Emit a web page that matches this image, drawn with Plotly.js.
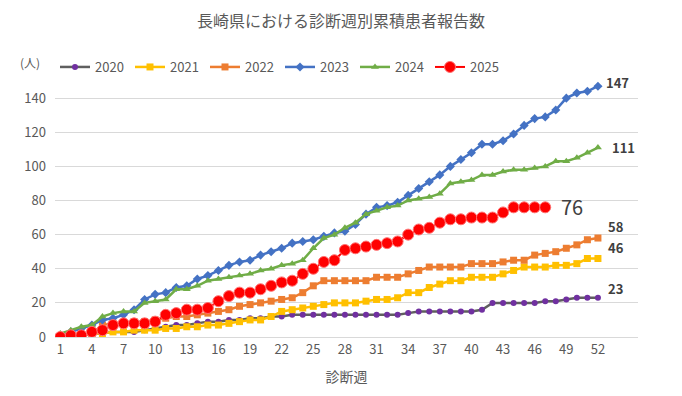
<!DOCTYPE html>
<html><head><meta charset="utf-8">
<script src="https://cdn.plot.ly/plotly-3.0.1.min.js"></script>
<style>html,body{margin:0;padding:0;background:#fff}#chart{width:682px;height:396px}</style>
</head><body><div id="chart"></div>
<script>
const weeks = [1,2,3,4,5,6,7,8,9,10,11,12,13,14,15,16,17,18,19,20,21,22,23,24,25,26,27,28,29,30,31,32,33,34,35,36,37,38,39,40,41,42,43,44,45,46,47,48,49,50,51,52];
const tickWeeks = [1,4,7,10,13,16,19,22,25,28,31,34,37,40,43,46,49,52];
const seriesNames = ["2020","2021","2022","2023","2024","2025"];
const y2020 = [0,1,1,2,2,3,3,3,4,5, 6,7,7,8,9,9,10,10,11,11, 12,12,13,13,13,13,13,13,13,13, 13,13,13,14,15,15,15,15,15,15, 16,20,20,20,20,20,21,21,22,23, 23,23];
const y2021 = [0,1,1,2,2,3,3,4,4,4, 5,5,6,6,7,7,8,9,10,10, 12,15,16,17,18,19,20,20,20,21, 22,22,23,26,26,29,31,33,33,35, 35,35,37,39,41,41,41,42,42,43, 46,46];
const y2022 = [0,1,1,2,7,8,8,9,9,10, 11,12,12,13,14,15,16,18,19,20, 21,22,23,26,30,33,33,33,33,33, 35,35,35,37,39,41,41,41,41,43, 43,43,44,45,45,48,49,50,52,54, 57,58];
const y2023 = [1,3,5,7,10,11,13,16,22,25, 26,29,30,34,36,39,42,44,45,48, 50,52,55,56,57,59,61,62,66,72, 76,77,79,83,87,91,95,100,104,108, 113,113,115,119,124,128,129,133,140,143, 144,147];
const y2024 = [2,4,6,7,12,14,15,15,20,21, 22,28,28,30,33,34,35,36,37,39, 40,42,43,45,52,58,60,64,67,72, 74,76,77,80,81,82,84,90,91,92, 95,95,97,98,98,99,100,103,103,105, 108,111];
const y2025 = [0,1,1,3,4,7,8,8,8,9, 13,14,16,16,17,21,24,26,26,28, 30,32,33,37,40,44,45,51,52,53, 54,55,56,60,63,64,67,69,69,70, 70,70,73,76,76,76,76];
const yTicks = [0,20,40,60,80,100,120,140];

const allY = [y2020,y2021,y2022,y2023,y2024,y2025];
const styles = [
  {line:{color:'#5f5f5f',width:2.5}, marker:{symbol:'circle',size:6,color:'#7030A0'}},
  {line:{color:'#FFC000',width:2.5}, marker:{symbol:'square',size:7,color:'#FFC000'}},
  {line:{color:'#ED7D31',width:2.5}, marker:{symbol:'square',size:7,color:'#ED7D31'}},
  {line:{color:'#4472C4',width:2.5}, marker:{symbol:'diamond',size:7,color:'#4472C4'}},
  {line:{color:'#70AD47',width:2.5}, marker:{symbol:'triangle-up',size:7,color:'#70AD47'}},
  {line:{color:'#FF0000',width:2}, marker:{symbol:'circle',size:11,color:'#FF0000',line:{color:'#FF7070',width:1}}}
];
const traces = allY.map((ys,i)=>({
  type:'scatter', mode:'lines+markers', name:seriesNames[i],
  x:weeks.slice(0,ys.length), y:ys,
  line:styles[i].line, marker:styles[i].marker
}));

const fam = '"Noto Sans CJK JP", sans-serif';
const labelFont = {family:fam, size:13, color:'#404040'};
const endLabels = [
  {i:3, xs:6, ys:4, big:false},
  {i:4, xs:12, ys:0, big:false},
  {i:2, xs:8, ys:12, big:false},
  {i:1, xs:8, ys:11, big:false},
  {i:0, xs:8, ys:9, big:false},
  {i:5, xs:14, ys:1, big:true}
];
const annotations = endLabels.map(o=>{
  const ys = allY[o.i];
  const v = ys[ys.length-1];
  return {x:ys.length, y:v, xref:'x', yref:'y', text:(o.big?String(v):'<b>'+v+'</b>'),
    showarrow:false, xanchor:'left', yanchor:'middle', xshift:o.xs, yshift:o.ys,
    font:o.big?{family:fam, size:20, color:'#404040'}:labelFont};
});
const W=682,H=396, L=55, R=44, T=64, B=59;
const pw=W-L-R, ph=H-T-B;
annotations.push({x:(30-L)/pw, y:(H-B-62)/ph, xref:'paper', yref:'paper', text:'(人)', showarrow:false,
  xanchor:'center', yanchor:'middle', font:{family:fam, size:12, color:'#595959'}});

const layout = {
  width:W, height:H, margin:{l:L,r:R,t:T,b:B},
  paper_bgcolor:'#fff', plot_bgcolor:'#fff',
  font:{family:fam, color:'#595959', size:13},
  title:{text:'長崎県における診断週別累積患者報告数', x:0.5, xanchor:'center', y:1-21/H, yanchor:'middle',
    font:{family:fam, size:16, color:'#595959'}},
  xaxis:{range:[0.5,55.8], tickmode:'array', tickvals:tickWeeks, ticktext:tickWeeks.map(String),
    showgrid:false, zeroline:false, showline:true, linecolor:'#d9d9d9', linewidth:1, ticks:'',
    tickfont:{size:13,color:'#595959'},
    title:{text:'診断週', font:{size:14,color:'#595959'}, standoff:15}},
  yaxis:{range:[0,160], tickmode:'array', tickvals:yTicks, ticktext:yTicks.map(String),
    showgrid:true, gridcolor:'#d9d9d9', gridwidth:1, zeroline:false, showline:false, ticks:'',
    ticklabelstandoff:8, tickfont:{size:13,color:'#595959'}},
  legend:{orientation:'h', x:0, xanchor:'left', y:(H-B-67)/ph, yanchor:'middle',
    bgcolor:'rgba(0,0,0,0)', font:{size:13,color:'#595959'}, itemwidth:30,
    entrywidth:30, entrywidthmode:'pixels', traceorder:'normal'},
  annotations:annotations, showlegend:true
};
Plotly.newPlot('chart', traces, layout, {staticPlot:true, displayModeBar:false});
</script></body></html>
